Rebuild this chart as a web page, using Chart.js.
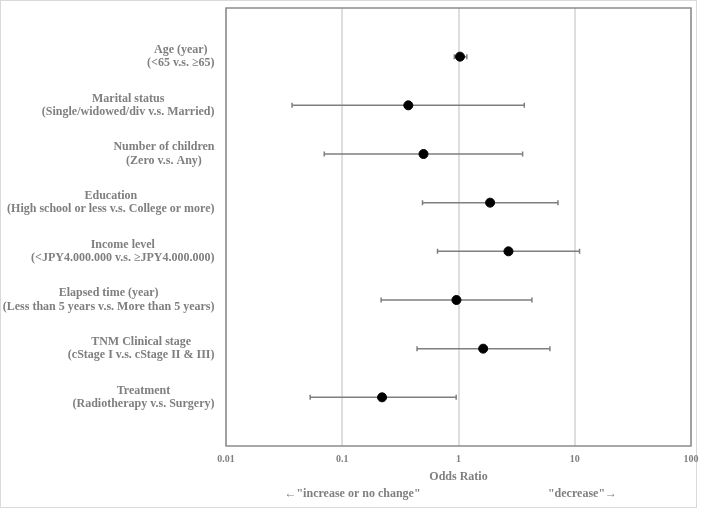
<!DOCTYPE html>
<html>
<head>
<meta charset="utf-8">
<script src="https://cdn.jsdelivr.net/npm/chart.js@4/dist/chart.umd.min.js"></script>
<style>
  html, body { margin: 0; padding: 0; background: #ffffff; }
  #wrap { width: 707px; height: 509px; position: relative; }
</style>
</head>
<body>
<div id="wrap"><canvas id="forest"></canvas></div>
<script>
// Forest plot data (odds ratio with 95% CI)
const categories = [
    ['Age (year)', '(<65 v.s. \u226565)'],
    ['Marital status', '(Single/widowed/div v.s. Married)'],
    ['Number of children', '(Zero v.s. Any)'],
    ['Education', '(High school or less v.s. College or more)'],
    ['Income level', '(<JPY4.000.000 v.s. \u2265JPY4.000.000)'],
    ['Elapsed time (year)', '(Less than 5 years v.s. More than 5 years)'],
    ['TNM Clinical stage', '(cStage I v.s. cStage II & III)'],
    ['Treatment', '(Radiotherapy v.s. Surgery)']
];
const oddsRatio = [1.03, 0.37, 0.50, 1.87, 2.69, 0.96, 1.63, 0.22];
const ciLower   = [0.92, 0.037, 0.070, 0.49, 0.66, 0.216, 0.44, 0.053];
const ciUpper   = [1.18, 3.68, 3.56, 7.17, 11.0, 4.28, 6.11, 0.955];
const xTicks = [0.01, 0.1, 1, 10, 100];
const xTickLabels = ['0.01', '0.1', '1', '10', '100'];
const arrowLabels = ['\u2190"increase or no change"', '"decrease"\u2192'];

const GRAY = '#7f7f7f';
const SERIF = "'Liberation Serif', 'Times New Roman', serif";

// error bars, plot frame and the two-line category labels
const forestPlugin = {
    id: 'forest',
    beforeDraw(chart) {
        const ctx = chart.ctx;
        ctx.save();
        ctx.strokeStyle = '#d9d9d9';
        ctx.lineWidth = 1;
        ctx.strokeRect(0.5, 0.5, 696, 507);
        ctx.restore();
    },
    beforeDatasetsDraw(chart) {
        const ctx = chart.ctx;
        const xs = chart.scales.x, ys = chart.scales.y;
        const a = chart.chartArea;
        ctx.save();
        // plot frame
        ctx.strokeStyle = '#8c8c8c';
        ctx.lineWidth = 1.5;
        ctx.strokeRect(a.left, a.top, a.right - a.left, a.bottom - a.top);
        // CI whiskers
        ctx.strokeStyle = GRAY;
        ctx.lineWidth = 1.5;
        categories.forEach((c, i) => {
            const y = ys.getPixelForValue(i + 1);
            const x1 = xs.getPixelForValue(ciLower[i]);
            const x2 = xs.getPixelForValue(ciUpper[i]);
            ctx.beginPath();
            ctx.moveTo(x1, y); ctx.lineTo(x2, y);
            ctx.moveTo(x1, y - 2.5); ctx.lineTo(x1, y + 2.5);
            ctx.moveTo(x2, y - 2.5); ctx.lineTo(x2, y + 2.5);
            ctx.stroke();
        });
        ctx.restore();
    },
    afterDraw(chart) {
        const ctx = chart.ctx;
        const ys = chart.scales.y;
        const a = chart.chartArea;
        ctx.save();
        ctx.font = 'bold 12px ' + SERIF;
        ctx.fillStyle = GRAY;
        ctx.textAlign = 'center';
        ctx.textBaseline = 'middle';
        const rightEdge = a.left - 11.5;
        categories.forEach((lines, i) => {
            const y = ys.getPixelForValue(i + 1);
            const w = Math.max(...lines.map(l => ctx.measureText(l).width));
            const cx = rightEdge - w / 2;
            ctx.fillText(lines[0], cx, y - 6.7);
            ctx.fillText(lines[1], cx, y + 6.7);
        });
        // direction hints under the axis title
        const mid = (a.left + a.right) / 2;
        ctx.fillText(arrowLabels[0], mid - 106, 494);
        ctx.fillText(arrowLabels[1], mid + 124, 494);
        ctx.restore();
    }
};

new Chart(document.getElementById('forest'), {
    type: 'scatter',
    data: {
        datasets: [{
            data: oddsRatio.map((v, i) => ({ x: v, y: i + 1 })),
            backgroundColor: '#000000',
            borderColor: '#000000',
            pointRadius: 4.5,
            pointHoverRadius: 4.5
        }]
    },
    options: {
        responsive: true,
        maintainAspectRatio: false,
        animation: false,
        events: [],
        layout: { padding: { left: 0, top: 8, right: 16, bottom: 0 } },
        plugins: {
            legend: { display: false },
            tooltip: { enabled: false }
        },
        scales: {
            x: {
                type: 'logarithmic',
                min: 0.01,
                max: 100,
                afterBuildTicks: scale => {
                    scale.ticks = xTicks.map(v => ({ value: v }));
                },
                afterFit: scale => { scale.height = 63; },
                ticks: {
                    autoSkip: false,
                    maxRotation: 0,
                    padding: 7,
                    color: GRAY,
                    font: { family: SERIF, size: 10, weight: 'bold' },
                    callback: (v) => {
                        const k = xTicks.indexOf(v);
                        return k >= 0 ? xTickLabels[k] : '';
                    }
                },
                grid: {
                    drawTicks: false,
                    color: '#dedede',
                    lineWidth: 2
                },
                border: { display: false },
                title: {
                    display: true,
                    text: 'Odds Ratio',
                    color: GRAY,
                    font: { family: SERIF, size: 12, weight: 'bold' },
                    padding: { top: 0, bottom: 25 }
                }
            },
            y: {
                type: 'linear',
                min: 0,
                max: 9,
                reverse: true,
                afterFit: scale => { scale.width = 226; },
                ticks: { display: false },
                grid: { display: false },
                border: { display: false }
            }
        }
    },
    plugins: [forestPlugin]
});
</script>
</body>
</html>
